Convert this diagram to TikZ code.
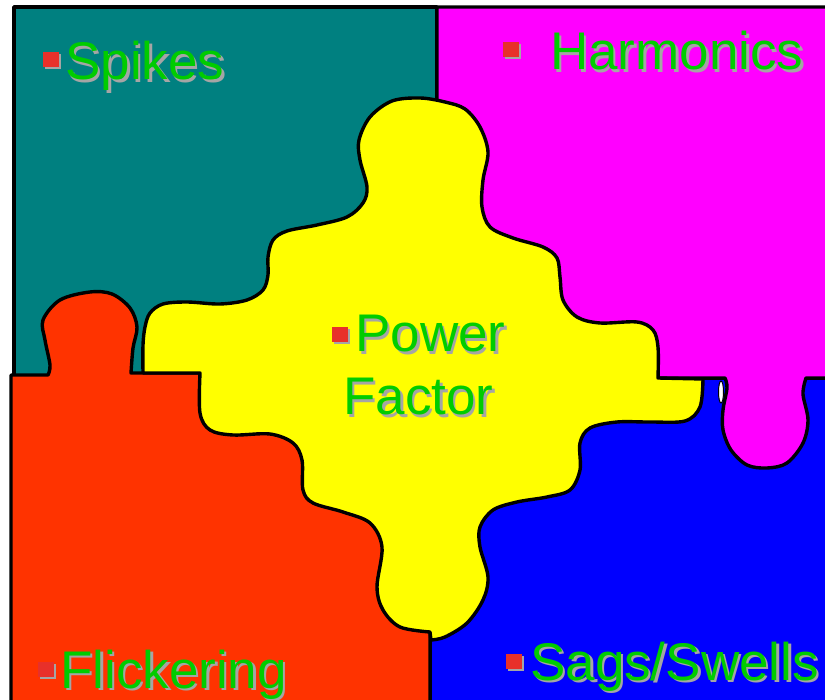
\documentclass[tikz,border=0pt]{standalone}
\usepackage{fontspec}
\setmainfont{Liberation Sans}
\definecolor{tealc}{RGB}{0,128,128}
\definecolor{magc}{RGB}{255,0,255}
\definecolor{redc}{RGB}{255,51,0}
\definecolor{bluec}{RGB}{0,0,255}
\definecolor{yelc}{RGB}{255,255,0}
\definecolor{lblgreen}{RGB}{0,204,0}
\definecolor{bulred}{RGB}{232,48,42}
\definecolor{shadowgray}{RGB}{165,165,165}
\tikzset{
  piece/.style={draw=black, line width=3.4pt, line join=round},
  lbltext/.style={font=\fontsize{53}{63}\selectfont, text=lblgreen, anchor=base west, inner sep=0pt},
  bul/.style={fill=bulred},
  bulshadow/.style={fill=shadowgray},
  smoothy/.style={smooth, tension=0.55}
}
\newcommand\shadowed[1]{\makebox[0pt][l]{\hspace{2.5pt}\raisebox{-2.5pt}{\color{shadowgray}#1}}#1}
\newcommand\puzlabel[4]{%
  \node[lbltext] (#1) at (#2,#3) {\shadowed{#4}};
}
\newcommand\puzbullet[3]{%
  \fill[bulshadow] (#1+2,#2+2) rectangle (#1+18,#2+17);
  \fill[bul] (#1,#2) rectangle (#1+16,#2+15);
  \coordinate (#3) at (#1,#2);
}
\begin{document}
\begin{tikzpicture}[x=1pt,y=-1pt]
\useasboundingbox (0,0) rectangle (825,700);
\clip (0,0) rectangle (825,700);
% teal piece (Spikes)
\draw[piece, fill=tealc] (14,7) rectangle (437,380);
% blue piece (Sags/Swells)
\draw[piece, fill=bluec] (430,378) rectangle (835,710);
% red piece (Flickering)
\draw[piece, fill=redc] (11,710) -- (11,375) -- (48,375) --
  plot[smoothy] coordinates {(48,375) (50,365) (45,340) (43,320) (60,300) (90,292) (112,294) (130,308) (137,327) (133,348) (131,373)}
  -- (430,373) -- (430,710) -- cycle;
% magenta piece (Harmonics)
\draw[piece, fill=magc] (437,7) -- (835,7) -- (835,378) -- (806,378) --
  plot[smoothy] coordinates {(806,378) (803,394) (808,420) (803,443) (787,463) (767,468) (747,465) (731,450) (723,430) (723,410) (727,388) (725,378)}
  -- (437,378) -- cycle;
% white sliver
\draw[fill=white, line width=1pt] (721,392) ellipse [x radius=2.5, y radius=11];
% yellow piece (Power Factor)
\draw[piece, fill=yelc]
  plot[smoothy] coordinates {(143,373) (143,345) (145,327) (150,313) (163,304) (187,302) (220,304) (247,300) (263,290) (268,275) (268,257) (273,240) (287,231) (317,225) (347,217) (363,203) (367,187) (360,160) (359,140) (370,117) (392,101) (420,98) (445,102) (465,109) (480,127) (488,152) (483,180) (482,207) (490,227) (513,238) (543,247) (557,258) (560,277) (563,300) (577,317) (600,323) (637,322) (653,330) (658,347) (658,378)}
  -- plot[smoothy] coordinates {(703,379) (700,407) (685,421) (650,422) (617,422) (590,428) (580,443) (580,470) (570,490) (547,497) (517,502) (493,510) (480,527) (480,547) (488,577) (483,600) (467,623) (445,637) (431,640)}
  -- plot[smoothy] coordinates {(430,632) (400,627) (383,610) (377,587) (382,547) (370,523) (343,512) (313,503) (303,490) (302,460) (293,443) (270,434) (233,435) (210,430) (200,413) (200,373)}
  -- cycle;
% labels
\puzbullet{43}{52}{b1}
\puzlabel{spikes}{65}{80}{Spikes}
\puzbullet{503}{42}{b2}
\puzlabel{harmonics}{550}{70}{Harmonics}
\puzbullet{332}{327}{b3}
\puzlabel{power}{355}{352}{Power}
\puzlabel{factor}{343}{415}{Factor}
\puzbullet{38}{662}{b4}
\puzlabel{flickering}{60}{688}{Flickering}
\puzbullet{506}{654}{b5}
\puzlabel{sags}{530}{680}{Sags/Swells}
\end{tikzpicture}
\end{document}
